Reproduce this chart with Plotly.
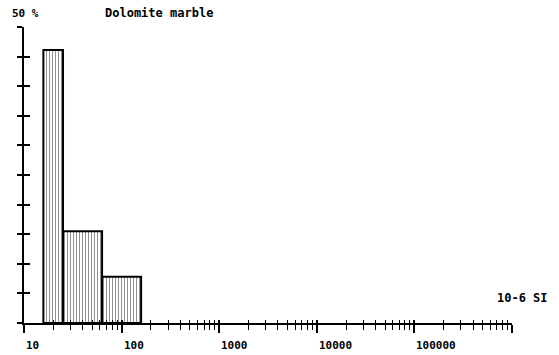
import numpy as np
import plotly.graph_objects as go

# Histogram of magnetic susceptibility (10^-6 SI), log-spaced classes
bin_edges = [15.8, 25.1, 63.1, 158.5]
percent = [46.1, 15.5, 7.8]

tick_values = [10, 100, 1000, 10000, 100000]
tick_labels = ["10", "100", "1000", "10000", "100000"]

title_text = "Dolomite marble"
y_label = "50 %"
x_unit = "10-6 SI"

FONT = "DejaVu Sans Mono"

fig = go.Figure()

for i, v in enumerate(percent):
    x0, x1 = bin_edges[i], bin_edges[i + 1]
    fig.add_trace(go.Scatter(
        x=[x0, x0, x1, x1, x0],
        y=[0, v, v, 0, 0],
        mode="lines",
        fill="toself",
        fillcolor="white",
        fillpattern=dict(shape="|", size=3, solidity=0.35,
                         fgcolor="#222", bgcolor="white"),
        line=dict(color="black", width=2),
        hoverinfo="skip",
        showlegend=False,
    ))

# invisible trace to carry the overlay axes (inner halves of the crossing ticks)
fig.add_trace(go.Scatter(x=[10], y=[0], xaxis="x2", yaxis="y2",
                         mode="markers", marker=dict(opacity=0),
                         showlegend=False, hoverinfo="skip"))

xr = [1, 6]
yr = [0, 50]

fig.update_layout(
    width=559, height=355,
    margin=dict(l=24, r=47, t=27, b=32),
    paper_bgcolor="white", plot_bgcolor="white",
    font=dict(family=FONT, color="black", size=11),
    xaxis=dict(type="log", range=xr, showgrid=False, zeroline=False,
               showline=True, linecolor="black", linewidth=2,
               ticks="outside", ticklen=8, tickwidth=1.5, tickcolor="black",
               dtick=1, showticklabels=False,
               minor=dict(ticks="outside", ticklen=5, tickwidth=1.2,
                          tickcolor="black", dtick="D1", showgrid=False)),
    xaxis2=dict(type="log", range=xr, overlaying="x", anchor="y",
                showgrid=False, zeroline=False, showline=False,
                ticks="inside", ticklen=3, tickwidth=1.5, tickcolor="black",
                dtick=1, showticklabels=False,
                minor=dict(ticks="inside", ticklen=3, tickwidth=1.2,
                           tickcolor="black", dtick="D1", showgrid=False)),
    yaxis=dict(range=yr, showgrid=False, zeroline=False,
               showline=True, linecolor="black", linewidth=2,
               ticks="outside", ticklen=5, tickwidth=2, tickcolor="black",
               dtick=5, showticklabels=False),
    yaxis2=dict(range=yr, overlaying="y", anchor="x",
                showgrid=False, zeroline=False, showline=False,
                ticks="inside", ticklen=6, tickwidth=2, tickcolor="black",
                dtick=5, showticklabels=False),
)

# tick labels start at their tick
for v, lab in zip(tick_values, tick_labels):
    fig.add_annotation(x=np.log10(v), y=0, xref="x", yref="y",
                       text=f"<b>{lab}</b>", showarrow=False,
                       xanchor="left", yanchor="top", yshift=-14,
                       font=dict(family=FONT, size=11))

fig.add_annotation(x=0, y=1, xref="paper", yref="paper",
                   text=f"<b>{y_label}</b>", showarrow=False,
                   xanchor="left", yanchor="middle", xshift=-14, yshift=14,
                   font=dict(family=FONT, size=11))
fig.add_annotation(x=0, y=1, xref="paper", yref="paper",
                   text=f"<b>{title_text}</b>", showarrow=False,
                   xanchor="left", yanchor="middle", xshift=79, yshift=14,
                   font=dict(family=FONT, size=12))
fig.add_annotation(x=1, y=0, xref="paper", yref="paper",
                   text=f"<b>{x_unit}</b>", showarrow=False,
                   xanchor="left", yanchor="middle", xshift=-17, yshift=25,
                   font=dict(family=FONT, size=12))

fig.write_html("out.html")
